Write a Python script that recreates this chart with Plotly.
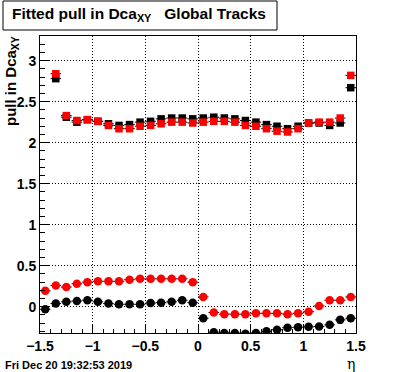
import plotly.graph_objects as go

# ---- data ----
eta_top = [-1.35, -1.25, -1.15, -1.05, -0.95, -0.85, -0.75, -0.65, -0.55, -0.45,
           -0.35, -0.25, -0.15, -0.05, 0.05, 0.15, 0.25, 0.35, 0.45, 0.55,
           0.65, 0.75, 0.85, 0.95, 1.05, 1.15, 1.25, 1.35, 1.45]
black_top = [2.78, 2.31, 2.25, 2.28, 2.26, 2.23, 2.21, 2.22, 2.25, 2.26,
             2.29, 2.30, 2.30, 2.29, 2.30, 2.31, 2.30, 2.29, 2.27, 2.25,
             2.22, 2.20, 2.17, 2.20, 2.24, 2.24, 2.21, 2.24, 2.67]
red_top = [2.84, 2.33, 2.27, 2.28, 2.26, 2.21, 2.17, 2.17, 2.20, 2.21,
           2.23, 2.25, 2.25, 2.24, 2.25, 2.26, 2.26, 2.25, 2.21, 2.20,
           2.17, 2.14, 2.13, 2.17, 2.24, 2.25, 2.25, 2.30, 2.82]

eta_bot = [-1.45, -1.35, -1.25, -1.15, -1.05, -0.95, -0.85, -0.75, -0.65, -0.55,
           -0.45, -0.35, -0.25, -0.15, -0.05, 0.05, 0.15, 0.25, 0.35, 0.45,
           0.55, 0.65, 0.75, 0.85, 0.95, 1.05, 1.15, 1.25, 1.35, 1.45]
red_bot = [0.195, 0.26, 0.24, 0.28, 0.30, 0.31, 0.31, 0.31, 0.33, 0.34,
           0.34, 0.34, 0.34, 0.34, 0.30, 0.12, -0.07, -0.09, -0.09, -0.09,
           -0.08, -0.08, -0.08, -0.09, -0.08, -0.06, 0.01, 0.08, 0.08, 0.12]
black_bot = [-0.03, 0.04, 0.06, 0.07, 0.08, 0.06, 0.04, 0.03, 0.03, 0.03,
             0.045, 0.05, 0.06, 0.08, 0.05, -0.14, -0.31, -0.32, -0.32, -0.33,
             -0.32, -0.30, -0.28, -0.255, -0.25, -0.245, -0.24, -0.22, -0.16, -0.14]

bin_half = 0.05

title_text = "Fitted pull in Dca<sub>XY</sub>\u00a0\u00a0 Global Tracks"
ytitle_text = "pull in Dca<sub>XY</sub>"
xtitle_text = "η"
date_text = "Fri Dec 20 19:32:53 2019"

# ---- figure ----
W, H = 396, 372
L, R, T, B = 40, 40, 36, 39
PW, PH = W - L - R, H - T - B


def fx(px):
    return (px - L) / PW


def fy(py):
    return (H - B - py) / PH


fig = go.Figure()


def add_series(x, y, color, symbol, size):
    fig.add_trace(go.Scatter(
        x=x, y=y, mode="markers",
        marker=dict(color=color, symbol=symbol, size=size, line=dict(width=0)),
        error_x=dict(type="constant", value=bin_half, color="black", thickness=1, width=0),
        hoverinfo="skip", cliponaxis=True,
    ))


add_series(eta_top, black_top, "black", "square", 7.5)
add_series(eta_top, red_top, "#ff0000", "square", 7.5)
add_series(eta_bot, black_bot, "black", "circle", 8.5)
add_series(eta_bot, red_bot, "#ff0000", "circle", 8.5)

axis_font = dict(family="Liberation Sans", size=14, color="black", weight="bold")
grid_common = dict(showgrid=True, gridcolor="black", gridwidth=1, griddash="1px,2px",
                   showline=True, linecolor="black", linewidth=1, mirror=True,
                   ticks="inside", tickcolor="black", zeroline=False,
                   tickfont=axis_font)

fig.update_xaxes(range=[-1.5, 1.5], tick0=-1.5, dtick=0.5, ticklen=9,
                 minor=dict(ticks="inside", ticklen=4.5, dtick=0.1, tick0=-1.5,
                            tickcolor="black", showgrid=False),
                 **grid_common)
fig.update_yaxes(range=[-0.32, 3.3], tick0=0, dtick=0.5, ticklen=9,
                 minor=dict(ticks="inside", ticklen=4.5, dtick=0.1, tick0=0,
                            tickcolor="black", showgrid=False),
                 **grid_common)

fig.update_layout(
    width=W, height=H, margin=dict(l=L, r=R, t=T, b=B, pad=0),
    paper_bgcolor="white", plot_bgcolor="white", showlegend=False,
)

# title box
fig.add_shape(type="rect", xref="paper", yref="paper",
              x0=fx(3), x1=fx(277), y0=fy(30), y1=fy(1),
              line=dict(color="black", width=1), fillcolor="white", layer="above")
fig.add_annotation(xref="paper", yref="paper", x=fx(139), y=fy(3),
                   xanchor="center", yanchor="top", showarrow=False,
                   text=title_text,
                   font=dict(family="Liberation Sans", size=15.5, color="black", weight="bold"))
# y title
fig.add_annotation(xref="paper", yref="paper", x=fx(11), y=fy(34),
                   xanchor="center", yanchor="top", showarrow=False, textangle=-90,
                   text=ytitle_text,
                   font=dict(family="Liberation Sans", size=15, color="black", weight="bold"))
# x title
fig.add_annotation(xref="paper", yref="paper", x=fx(357), y=fy(364),
                   xanchor="right", yanchor="middle", showarrow=False,
                   text=xtitle_text,
                   font=dict(family="DejaVu Serif", size=14, color="black"))
# date stamp
fig.add_annotation(xref="paper", yref="paper", x=fx(3), y=fy(365),
                   xanchor="left", yanchor="middle", showarrow=False,
                   text=date_text,
                   font=dict(family="Liberation Sans", size=11, color="black", weight="bold"))

fig.write_html("out.html", config={"displayModeBar": False},
               post_script="document.body.style.margin='0';document.body.style.overflow='hidden';")
